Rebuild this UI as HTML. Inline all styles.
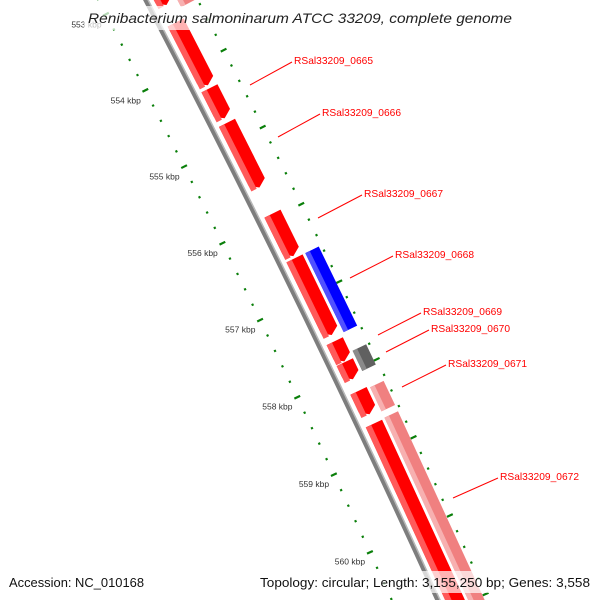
<!DOCTYPE html>
<html><head><meta charset="utf-8"><style>
html,body{margin:0;padding:0;background:#fff;width:600px;height:600px;overflow:hidden;}
svg{display:block;font-family:"Liberation Sans","DejaVu Sans",sans-serif;}
</style></head><body>
<svg id="map" width="600" height="600" viewBox="0 0 600 600" xmlns="http://www.w3.org/2000/svg">
<g id="ruler"></g>
<g id="backbone"></g>
<g id="features"></g>
<g id="genelabels"></g>
<rect x="84" y="6" width="434" height="24" fill="#fff" fill-opacity="0.7"/>
<text x="300" y="23" text-anchor="middle" font-size="14" font-style="italic" fill="#222" textLength="424" lengthAdjust="spacingAndGlyphs">Renibacterium salmoninarum ATCC 33209, complete genome</text>
<rect x="4" y="571" width="146" height="22" fill="#fff" fill-opacity="0.7"/>
<text x="9" y="587" font-size="13" fill="#111" textLength="135" lengthAdjust="spacingAndGlyphs">Accession: NC_010168</text>
<rect x="255" y="571" width="340" height="22" fill="#fff" fill-opacity="0.7"/>
<text x="590" y="587" font-size="13" fill="#111" text-anchor="end" textLength="330" lengthAdjust="spacingAndGlyphs">Topology: circular; Length: 3,155,250 bp; Genes: 3,558</text>
</svg>
<script>
const tickKbp=[553,554,555,556,557,558,559,560];
const tickLabels=["553 kbp","554 kbp","555 kbp","556 kbp","557 kbp","558 kbp","559 kbp","560 kbp"];
const redStart=[552.6,553.46,554.32,554.77,555.95,556.53,557.6,557.87,558.24,558.66];
const redEnd=[553.23,554.28,554.71,555.61,556.5,557.52,557.86,558.09,558.54,561.5];
const row2Start=[552.8,556.53,557.79,558.26,558.65];
const row2End=[553.33,557.55,558.05,558.57,561.5];
const row2Type=["pink","blue","gray","pink","pink"];
const geneNames=["RSal33209_0665","RSal33209_0666","RSal33209_0667","RSal33209_0668","RSal33209_0669","RSal33209_0670","RSal33209_0671","RSal33209_0672"];
const geneLabelX=[294,322,364,395,423,431,448,500];
const geneLabelY=[64,116,197,258,315,332,367,480];
const geneAnchorX=[250,278,318,350,378,386,402,453];
const geneAnchorY=[85,137,218,278,335,352,387,498];

const NS="http://www.w3.org/2000/svg";
const cx=-10505, cy=5554, k0=554, th0=-0.4740, dth=0.007153;
const RB=12012, RIN=11970, ROUT=12058;
function ang(k){return th0+(k-k0)*dth;}
function pt(r,k){const t=ang(k);return [cx+r*Math.cos(t), cy+r*Math.sin(t)];}
function mk(tag,attrs,parent){const e=document.createElementNS(NS,tag);for(const a in attrs)e.setAttribute(a,attrs[a]);parent.appendChild(e);return e;}

const bb=document.getElementById('backbone');
let a=pt(RB,551.5), b=pt(RB,562);
let e=mk('path',{d:`M${a[0]},${a[1]} A${RB},${RB} 0 0 1 ${b[0]},${b[1]}`,fill:'none',stroke:'#7d7d7d','stroke-width':5},bb);


a=pt(RB+2,551.5); b=pt(RB+2,562);
e=mk('path',{d:`M${a[0]},${a[1]} A${RB+2},${RB+2} 0 0 1 ${b[0]},${b[1]}`,fill:'none',stroke:'#b8b8b8','stroke-width':1.5},bb);



const ru=document.getElementById('ruler');
for(let i=0;i<=50;i++){
  const k=552+i*0.2;
  const major=(i%5===0);
  for(const r of [RIN,ROUT]){
    const h=major?3.2:1.1;
    const p1=pt(r-h,k), p2=pt(r+h,k);
    const t=mk('line',{x1:p1[0],y1:p1[1],x2:p2[0],y2:p2[1],stroke:'#0a7f0a','stroke-width':2.2},ru);
    
    
  }
}
tickKbp.forEach((k,i)=>{
  const p=pt(RIN-22,k);
  const t=mk('text',{x:p[0],y:p[1]+3,'text-anchor':'middle','font-size':8.5,fill:'#333'},ru);
  t.textContent=tickLabels[i];
  
  
});

const fg=document.getElementById('features');
function band(k1,k2,r1,r2,arrow){
  const head=6/((r1+r2)/2*dth);
  const kb=arrow?Math.max(k1,k2-head):k2;
  const P=[pt(r1,k1),pt(r1,kb)];
  if(arrow)P.push(pt((r1+r2)/2,k2));
  P.push(pt(r2,kb),pt(r2,k1));
  return P.map(p=>p[0].toFixed(2)+','+p[1].toFixed(2)).join(' ');
}
const colors={red:['#ff0000','#ff5a5a'],pink:['#f08080','#f7b0b0'],blue:['#0000ff','#5050ff'],gray:['#606060','#8a8a8a']};
function drawFeature(k1,k2,r1,r2,type,arrow,name){
  const g=mk('g',{},fg);
  
  
  mk('polygon',{points:band(k1,k2,r1,r2,arrow),fill:colors[type][0]},g);
  mk('polygon',{points:band(k1,k2,r1,r1+(r2-r1)*0.33,false),fill:colors[type][1]},g);
}
redStart.forEach((s,i)=>drawFeature(s,redEnd[i],12019,12037,'red',true,'forward-gene'));
row2Start.forEach((s,i)=>drawFeature(s,row2End[i],12040,12055,row2Type[i],false,'gene-'+row2Type[i]));

const gl=document.getElementById('genelabels');
geneNames.forEach((n,i)=>{
  const l=mk('line',{x1:geneAnchorX[i],y1:geneAnchorY[i],x2:geneLabelX[i]-2,y2:geneLabelY[i]-2,stroke:'#ff0000','stroke-width':1},gl);
  
  
  const t=mk('text',{x:geneLabelX[i],y:geneLabelY[i],'font-size':10.5,fill:'#ff0000',textLength:79,lengthAdjust:'spacingAndGlyphs'},gl);
  t.textContent=n;
  
  
});
</script>
</body></html>
